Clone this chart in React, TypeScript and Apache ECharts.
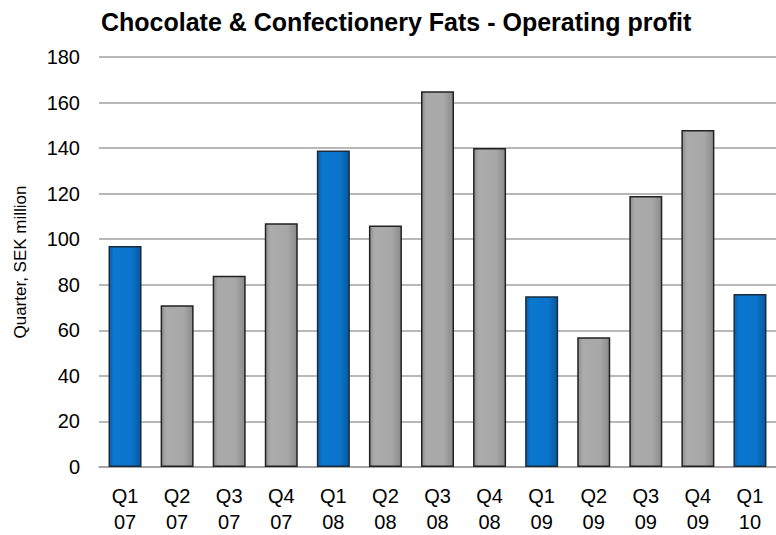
import React, { useEffect, useRef } from "react";
import * as echarts from "echarts";

const categories = ["Q1\n07", "Q2\n07", "Q3\n07", "Q4\n07", "Q1\n08", "Q2\n08", "Q3\n08", "Q4\n08", "Q1\n09", "Q2\n09", "Q3\n09", "Q4\n09", "Q1\n10"];
const profit = [97, 71, 84, 107, 139, 106, 165, 140, 75, 57, 119, 148, 76];
const isFirstQuarter = [true, false, false, false, true, false, false, false, true, false, false, false, true];
const yTicks = { min: 0, max: 180, interval: 20 };

function barStyle(blue: boolean) {
  const stops = blue
    ? [
        { offset: 0, color: "#0a5fa8" },
        { offset: 0.15, color: "#0a78d0" },
        { offset: 0.7, color: "#0b74cc" },
        { offset: 1, color: "#075a9e" },
      ]
    : [
        { offset: 0, color: "#8e8e8e" },
        { offset: 0.15, color: "#ababab" },
        { offset: 0.7, color: "#a8a8a8" },
        { offset: 1, color: "#8a8a8a" },
      ];
  return {
    color: new echarts.graphic.LinearGradient(0, 0, 1, 0, stops),
    borderColor: blue ? "#1b2b3b" : "#222222",
    borderWidth: 1.5,
  };
}

export default function App() {
  const ref = useRef<HTMLDivElement>(null);
  useEffect(() => {
    if (!ref.current) return;
    const chart = echarts.init(ref.current, null, { renderer: "svg" });
    chart.setOption({
      animation: false,
      backgroundColor: "#ffffff",
      title: {
        text: "Chocolate & Confectionery Fats - Operating profit",
        left: 96,
        top: 4,
        textStyle: { fontFamily: "Liberation Sans, Arial", fontWeight: "bold", fontSize: 25, color: "#000" },
      },
      grid: { left: 99, right: 0, top: 57, bottom: 67, containLabel: false },
      xAxis: {
        type: "category",
        data: categories,
        axisTick: { show: false },
        axisLine: { lineStyle: { color: "#a0a0a0", width: 1.5 } },
        axisLabel: {
          fontFamily: "Liberation Sans, Arial",
          fontSize: 20,
          color: "#000",
          lineHeight: 26,
          margin: 16,
          interval: 0,
        },
      },
      yAxis: {
        type: "value",
        min: yTicks.min,
        max: yTicks.max,
        interval: yTicks.interval,
        name: "Quarter, SEK million",
        nameLocation: "middle",
        nameGap: 70,
        nameTextStyle: { fontFamily: "Liberation Sans, Arial", fontSize: 17, color: "#000" },
        axisLine: { show: false },
        axisTick: { show: false },
        axisLabel: { fontFamily: "Liberation Sans, Arial", fontSize: 20, color: "#000", margin: 19 },
        splitLine: { lineStyle: { color: "#a0a0a0", width: 1.5 } },
      },
      series: [
        {
          type: "bar",
          barWidth: 33,
          data: profit.map((v, i) => ({ value: v, itemStyle: barStyle(isFirstQuarter[i]) })),
        },
      ],
    });
    return () => chart.dispose();
  }, []);
  return <div ref={ref} style={{ position: "fixed", left: 0, top: 0, width: 776, height: 535 }} />;
}
